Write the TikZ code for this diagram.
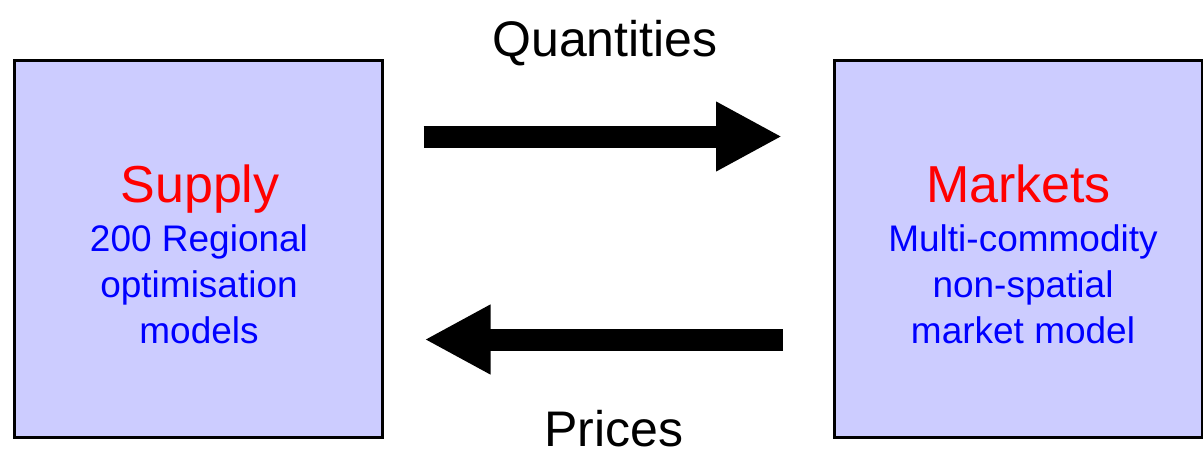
\documentclass[tikz,border=0pt]{standalone}
\usepackage{fontspec}
\setmainfont{Liberation Sans}
\usetikzlibrary{arrows.meta}
\definecolor{lav}{RGB}{204,204,255}
\definecolor{txtred}{RGB}{255,0,0}
\definecolor{txtblue}{RGB}{0,0,255}
\tikzset{
  modelbox/.style={draw=black, fill=lav, line width=3pt, outer sep=0pt, inner sep=0pt,
    minimum width=368pt, minimum height=377pt},
  titletext/.style={text=txtred, inner sep=0pt, anchor=base, font=\fontsize{52}{60}\selectfont},
  bodytext/.style={text=txtblue, inner sep=0pt, anchor=base, font=\fontsize{37}{44}\selectfont},
  flowlabel/.style={text=black, inner sep=0pt, anchor=base, font=\fontsize{50}{58}\selectfont},
  bigarrow/.style={line width=22pt, draw=black, -{Triangle[length=66pt,width=65pt]}}
}
\begin{document}
\begin{tikzpicture}[x=1pt,y=-1pt]
\useasboundingbox (0,0) rectangle (1203,450);
\node[modelbox] (supply) at (198.5,249) {};
\node[modelbox] (markets) at (1018.5,249) {};

\node[titletext] (supplyT) at (200,202) {Supply};
\node[bodytext] (s1) at (199,251) {200 Regional};
\node[bodytext] (s2) at (199,297) {optimisation};
\node[bodytext] (s3) at (199,343) {models};

\node[titletext] (marketsT) at (1018.5,202) {Markets};
\node[bodytext] (m1) at (1023,251) {Multi-commodity};
\node[bodytext] (m2) at (1023,297) {non-spatial};
\node[bodytext] (m3) at (1023,343) {market model};

\node[flowlabel] (qlab) at (605,56) {Quantities};
\node[flowlabel] (plab) at (614,446.5) {Prices};

\coordinate (qy) at (600,136.5);
\coordinate (py) at (600,339.5);
\draw[bigarrow, shorten <=41pt, shorten >=52.5pt] (supply.east |- qy) -- (markets.west |- qy);
\draw[bigarrow, shorten <=51.5pt, shorten >=42pt] (markets.west |- py) -- (supply.east |- py);
\end{tikzpicture}
\end{document}
